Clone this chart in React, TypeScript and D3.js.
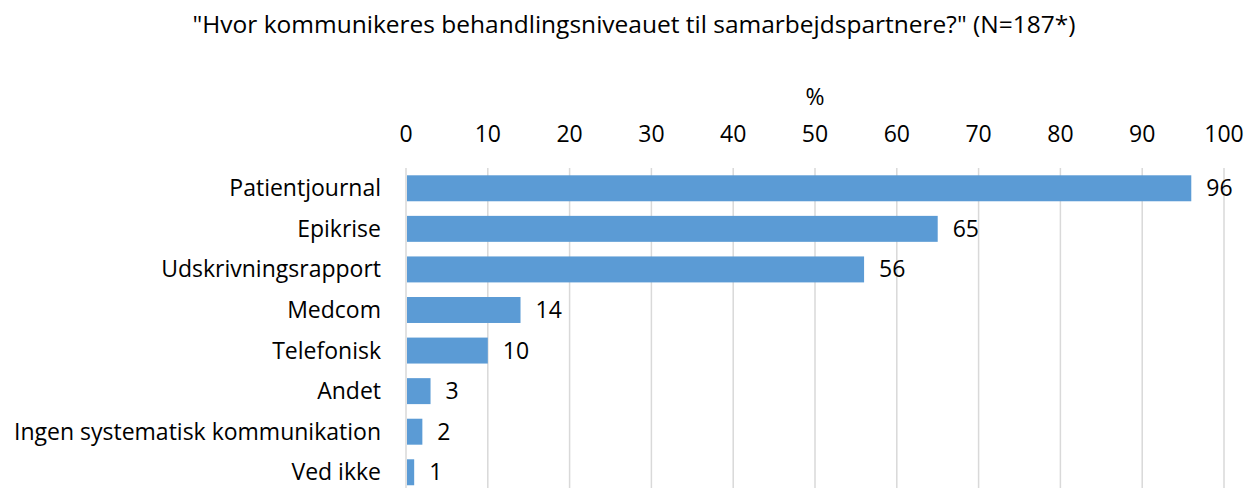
import React, { useEffect, useRef } from 'react';
import * as d3 from 'd3';

const categories = [
  'Patientjournal',
  'Epikrise',
  'Udskrivningsrapport',
  'Medcom',
  'Telefonisk',
  'Andet',
  'Ingen systematisk kommunikation',
  'Ved ikke',
];
const values = [96, 65, 56, 14, 10, 3, 2, 1];
const ticks = [0, 10, 20, 30, 40, 50, 60, 70, 80, 90, 100];
const title = '"Hvor kommunikeres behandlingsniveauet til samarbejdspartnere?" (N=187*)';

const FONT = '"Open Sans", sans-serif';

const App = () => {
  const svgRef = useRef<SVGSVGElement>(null);

  useEffect(() => {
    const width = 1247;
    const height = 488;
    const svg = d3.select(svgRef.current);
    svg.selectAll('*').remove();

    const x = d3.scaleLinear().domain([0, 100]).range([406, 1224]);
    const y = d3
      .scaleBand()
      .domain(categories)
      .range([168, 168 + 40.57 * categories.length])
      .paddingInner(0.36)
      .paddingOuter(0.18);

    svg
      .append('text')
      .attr('x', 634)
      .attr('y', 33)
      .attr('text-anchor', 'middle')
      .attr('font-family', FONT)
      .attr('font-size', 24.5)
      .attr('fill', '#000')
      .text(title);

    svg
      .append('text')
      .attr('x', 815)
      .attr('y', 105)
      .attr('text-anchor', 'middle')
      .attr('font-family', FONT)
      .attr('font-size', 23)
      .text('%');

    // gridlines
    svg
      .append('g')
      .selectAll('line')
      .data(ticks)
      .join('line')
      .attr('x1', d => x(d))
      .attr('x2', d => x(d))
      .attr('y1', 168)
      .attr('y2', height)
      .attr('stroke', '#d9d9d9')
      .attr('stroke-width', 1.5);

    // top axis labels
    svg
      .append('g')
      .selectAll('text')
      .data(ticks)
      .join('text')
      .attr('x', d => x(d))
      .attr('y', 142)
      .attr('text-anchor', 'middle')
      .attr('font-family', FONT)
      .attr('font-size', 23)
      .text(d => d);

    svg
      .append('g')
      .selectAll('rect')
      .data(values)
      .join('rect')
      .attr('x', x(0) + 1)
      .attr('y', (d, i) => y(categories[i]))
      .attr('width', d => x(d) - x(0) - 1)
      .attr('height', y.bandwidth())
      .attr('fill', '#5b9bd5');

    svg
      .append('g')
      .selectAll('text')
      .data(values)
      .join('text')
      .attr('x', d => x(d) + 15)
      .attr('y', (d, i) => y(categories[i]) + y.bandwidth() / 2)
      .attr('dy', '0.35em')
      .attr('font-family', FONT)
      .attr('font-size', 23)
      .text(d => d);

    svg
      .append('g')
      .selectAll('text')
      .data(categories)
      .join('text')
      .attr('x', 381)
      .attr('y', d => y(d) + y.bandwidth() / 2)
      .attr('dy', '0.35em')
      .attr('text-anchor', 'end')
      .attr('font-family', FONT)
      .attr('font-size', 23)
      .text(d => d);

    svg.attr('width', width).attr('height', height);
  }, []);

  return <svg ref={svgRef} style={{ position: 'absolute', left: 0, top: 0 }}></svg>;
};

export default App;
